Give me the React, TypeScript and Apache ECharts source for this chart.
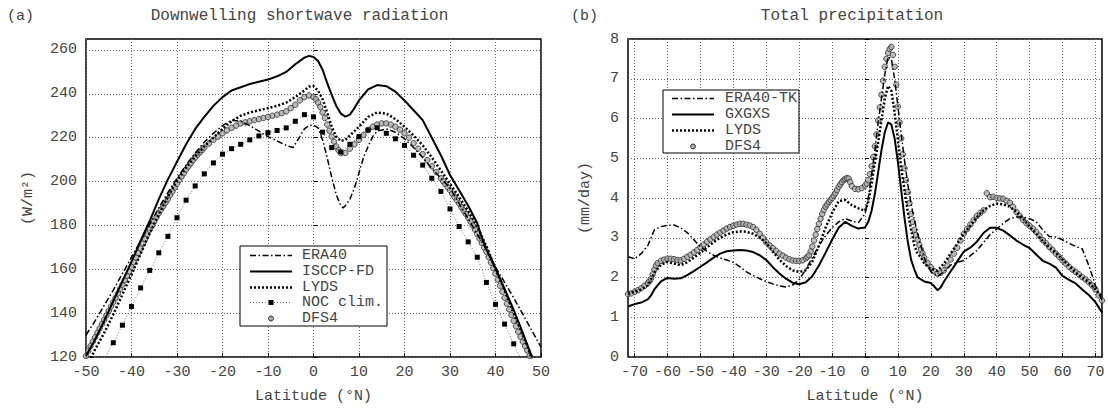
import React, { useEffect, useRef } from 'react';
import * as echarts from 'echarts';

const FONT = "'Liberation Mono', 'Courier New', monospace";
const TXT = '#444';

// ---------- Panel (a): Downwelling shortwave radiation ----------
const A_X_TICKS = [-50, -40, -30, -20, -10, 0, 10, 20, 30, 40, 50];
const A_Y_TICKS = [120, 140, 160, 180, 200, 220, 240, 260];

const A_ERA40: [number, number][] = [
  [-50, 130], [-48, 136.5], [-46, 143.5], [-44, 150.5], [-42, 158], [-40, 165.5], [-38, 173], [-36, 180.5],
  [-34, 188], [-32, 195], [-30, 201.5], [-28, 207.5], [-26, 213], [-24, 218], [-22, 222], [-20, 225.5],
  [-18, 228], [-16, 227.5], [-14, 225.5], [-12, 223], [-10, 220.5], [-8, 218.5], [-6, 216.5], [-4.5, 215.5],
  [-3, 220.5], [-2, 224], [-1, 225.5], [0, 225.8], [1, 224.5], [2, 219], [3, 211], [4, 202], [5, 194],
  [6, 189], [6.5, 188], [7, 189], [8, 192], [9, 197], [10, 204], [11, 211], [12, 216], [13, 220.5],
  [14, 223], [16, 224], [18, 222.5], [20, 219.5], [22, 215.5], [24, 211], [26, 206], [28, 201.5],
  [30, 197], [32, 190], [34, 183], [36, 176], [38, 169], [40, 161], [42, 154], [44, 147], [46, 139.5],
  [48, 132], [50, 124.5],
];

const A_ISCCP: [number, number][] = [
  [-50, 120.5], [-48, 128], [-46, 136.5], [-44, 145.5], [-42, 154.5], [-40, 163.5], [-38, 173], [-36, 182],
  [-34, 192], [-32, 201], [-30, 209], [-28, 217], [-26, 224], [-24, 229.5], [-22, 234.5], [-20, 238.5],
  [-18, 241.5], [-16, 243], [-14, 244.5], [-12, 245.5], [-10, 246.5], [-8, 248], [-6, 250], [-4, 253.5],
  [-2, 256.5], [-1, 257.3], [0, 256.8], [1, 255], [2, 251], [3, 245], [4, 239.5], [5, 234.5], [6, 231],
  [7, 229.6], [8, 230.5], [9, 233.5], [10, 237], [12, 242], [14, 244], [16, 243.5], [18, 241], [20, 237],
  [22, 232.5], [24, 228], [26, 220], [28, 212], [30, 203], [32, 196], [34, 189], [36, 181], [37, 174.5],
  [38, 169], [40, 160.5], [42, 151], [44, 141.5], [46, 131], [47, 125.5], [48, 120],
];

const A_LYDS: [number, number][] = [
  [-50, 114.5], [-48, 123.5], [-46, 131], [-44, 139.5], [-42, 148.5], [-40, 157.5], [-38, 167], [-36, 176.5],
  [-34, 185], [-32, 193], [-30, 200.5], [-28, 206.5], [-26, 211.5], [-24, 216], [-22, 220], [-20, 224],
  [-18, 227.5], [-16, 230], [-14, 231.5], [-12, 232.5], [-10, 233.5], [-8, 234.5], [-6, 236], [-4, 238.5],
  [-2, 241.5], [-1, 243.3], [0, 243.5], [1, 241.5], [2, 237.5], [3, 231.5], [4, 225], [5, 220.5], [6, 218.5],
  [7, 219], [8, 221], [10, 225], [12, 229.5], [14, 231.5], [16, 231], [18, 228.5], [20, 225], [22, 221],
  [24, 216.5], [26, 211], [28, 205], [30, 199], [32, 193], [34, 186.5], [36, 179.5], [38, 170.5], [40, 160],
  [42, 150.5], [44, 140], [46, 130], [47, 125], [48, 119],
];

const A_NOC: [number, number][] = [
  [-46, 119], [-44, 126.5], [-42, 134.5], [-40, 143], [-38, 151.5], [-36, 159.5], [-34, 167.5], [-32, 175],
  [-30, 183.5], [-28, 191.5], [-26, 198], [-24, 203.5], [-22, 208.5], [-20, 212.5], [-18, 215], [-16, 217],
  [-14, 219], [-12, 220.8], [-10, 222.3], [-8, 223.3], [-6, 224.5], [-4, 227.5], [-2, 230.5], [0, 229.5],
  [2, 222.5], [4, 215.5], [6, 213.5], [8, 217], [10, 220.5], [12, 223.5], [14, 224.5], [16, 222], [18, 219.5],
  [20, 216.5], [22, 212], [24, 207.5], [26, 201.5], [28, 195.5], [30, 187.5], [32, 179.5], [34, 172.5],
  [36, 165.5], [38, 154], [40, 144], [42, 135], [44, 126], [46, 117],
];

const A_DFS4: [number, number][] = [
  [-50, 120.5], [-49.5, 122.8], [-49, 125], [-48.5, 127], [-48, 129], [-47.5, 131], [-47, 133], [-46.5, 135],
  [-46, 137], [-45.5, 139], [-45, 141], [-44.5, 143], [-44, 145], [-43.5, 147], [-43, 149], [-42.5, 151],
  [-42, 153], [-41.5, 155], [-41, 157], [-40.5, 159], [-40, 161], [-39.5, 163.2], [-39, 165.3], [-38.5, 167.4],
  [-38, 169.5], [-37.5, 171.7], [-37, 173.8], [-36.5, 175.9], [-36, 178], [-35.5, 179.9], [-35, 181.8],
  [-34.5, 183.7], [-34, 185.5], [-33.5, 187.2], [-33, 188.8], [-32.5, 190.4], [-32, 192], [-31.5, 193.8],
  [-31, 195.5], [-30.5, 197.3], [-30, 199], [-29.5, 200.7], [-29, 202.3], [-28.5, 203.9], [-28, 205.5],
  [-27.5, 206.9], [-27, 208.3], [-26.5, 209.7], [-26, 211], [-25.5, 212.2], [-25, 213.3], [-24.5, 214.4],
  [-24, 215.5], [-23, 217.3], [-22, 219], [-21, 220.5], [-20, 222], [-19, 223.3], [-18, 224.5],
  [-17, 225.5], [-16, 226.5], [-15, 227], [-14, 227.5], [-13, 228], [-12, 228.5], [-11, 229], [-10, 229.5],
  [-9, 230], [-8, 230.5], [-7, 231.2], [-6, 232], [-5, 233.5], [-4, 235], [-3, 237], [-2, 238.5], [-1, 239.3],
  [0, 238.5], [0.5, 237.5], [1, 236], [1.5, 234], [2, 231.5], [2.5, 229], [3, 226], [3.5, 223.2], [4, 220.5],
  [4.5, 218.2], [5, 216], [5.5, 214.3], [6, 213], [7, 213], [8, 215], [9, 217],
  [10, 219], [11, 221.3], [12, 223.5], [13, 225], [14, 226], [15, 226.5], [16, 226.5], [17, 226], [18, 225],
  [19, 223.7], [20, 222], [21, 220], [22, 217.5], [23, 215], [24, 212.5], [25, 209.8], [26, 207], [27, 204.3],
  [28, 201.5], [28.5, 200.1], [29, 198.8], [29.5, 197.4], [30, 196], [30.5, 194.5], [31, 193], [31.5, 191.5],
  [32, 190], [32.5, 188.4], [33, 186.8], [33.5, 185.2], [34, 183.5], [34.5, 181.8], [35, 180], [35.5, 178],
  [36, 176], [36.5, 174], [37, 172], [37.5, 170], [38, 168], [38.5, 165.5], [39, 163], [39.5, 160.5],
  [40, 158], [40.5, 155.3], [41, 152.5], [41.5, 149.8], [42, 147], [42.5, 144.3], [43, 141.7], [43.5, 139.1],
  [44, 136.5], [44.5, 134], [45, 131.5], [45.5, 129.2], [46, 127], [46.5, 125], [47, 123], [47.5, 120.5],
];

// ---------- Panel (b): Total precipitation ----------
const B_X_TICKS = [-70, -60, -50, -40, -30, -20, -10, 0, 10, 20, 30, 40, 50, 60, 70];
const B_Y_TICKS = [0, 1, 2, 3, 4, 5, 6, 7, 8];

const B_ERA40TK: [number, number][] = [
  [-72, 2.52], [-70, 2.47], [-68, 2.6], [-66, 2.8], [-65, 3.0], [-64, 3.2], [-62, 3.28], [-60, 3.31], [-58, 3.32],
  [-56, 3.25], [-54, 3.13], [-52, 2.95], [-50, 2.77], [-48, 2.66], [-46, 2.56], [-44, 2.49], [-42, 2.44],
  [-40, 2.38], [-38, 2.27], [-36, 2.14], [-34, 2.05], [-32, 1.97], [-30, 1.9], [-28, 1.84], [-26, 1.79],
  [-24, 1.76], [-22, 1.81], [-20, 1.95], [-18, 2.2], [-16, 2.5], [-14, 2.8], [-12, 3.05], [-10, 3.25], [-8, 3.4],
  [-6, 3.48], [-4, 3.42], [-2, 3.38], [0, 3.6], [1, 4.0], [2, 4.6], [3, 5.2], [4, 5.9], [5, 6.5], [6, 7.1],
  [7, 7.55], [8, 7.5], [9, 7.0], [10, 6.3], [11, 5.6], [12, 4.95], [13, 4.35], [14, 3.85], [15, 3.45], [16, 3.1],
  [17, 2.8], [18, 2.5], [19, 2.3], [20, 2.15], [22, 2.02], [24, 2.15], [26, 2.31], [28, 2.38], [30, 2.43],
  [32, 2.55], [34, 2.68], [36, 2.88], [38, 3.08], [40, 3.22], [42, 3.36], [44, 3.48], [46, 3.52], [48, 3.52],
  [50, 3.48], [52, 3.4], [54, 3.2], [56, 3.03], [58, 3.02], [60, 2.95], [62, 2.86], [64, 2.78], [66, 2.72],
  [68, 2.3], [70, 1.8], [72, 1.43],
];

const B_GXGXS: [number, number][] = [
  [-72, 1.27], [-70, 1.33], [-68, 1.37], [-66, 1.45], [-65, 1.55], [-64, 1.7], [-62, 1.9], [-60, 1.99], [-58, 1.97],
  [-56, 1.98], [-54, 2.06], [-52, 2.16], [-50, 2.27], [-48, 2.38], [-46, 2.5], [-44, 2.6], [-42, 2.66], [-40, 2.68],
  [-38, 2.69], [-36, 2.68], [-34, 2.64], [-32, 2.56], [-30, 2.44], [-28, 2.26], [-26, 2.1], [-24, 1.97],
  [-22, 1.87], [-20, 1.83], [-18, 1.88], [-16, 2.03], [-14, 2.3], [-12, 2.62], [-10, 2.95], [-8, 3.25], [-6, 3.4],
  [-4, 3.3], [-2, 3.23], [0, 3.26], [1, 3.4], [2, 3.68], [3, 4.1], [4, 4.65], [5, 5.2], [6, 5.65], [7, 5.9],
  [8, 5.85], [9, 5.5], [10, 4.9], [11, 4.2], [12, 3.5], [13, 2.9], [14, 2.45], [15, 2.2], [16, 2.0], [18, 1.9],
  [20, 1.86], [21, 1.78], [22, 1.68], [23, 1.75], [24, 1.9], [26, 2.15], [28, 2.4], [30, 2.65], [32, 2.75],
  [34, 2.9], [36, 3.12], [38, 3.25], [40, 3.25], [42, 3.18], [44, 3.06], [46, 2.93], [48, 2.83], [50, 2.74],
  [52, 2.58], [54, 2.42], [56, 2.35], [58, 2.25], [60, 2.04], [62, 1.94], [64, 1.85], [66, 1.7], [68, 1.56],
  [70, 1.38], [72, 1.12],
];

const B_LYDS: [number, number][] = [
  [-72, 1.59], [-70, 1.64], [-68, 1.7], [-66, 1.8], [-65, 1.95], [-64, 2.12], [-62, 2.32], [-60, 2.39], [-58, 2.35],
  [-56, 2.31], [-54, 2.38], [-52, 2.5], [-50, 2.62], [-48, 2.76], [-46, 2.89], [-44, 3.0], [-42, 3.08], [-40, 3.14],
  [-38, 3.16], [-36, 3.15], [-34, 3.1], [-32, 3.0], [-30, 2.87], [-28, 2.65], [-26, 2.45], [-24, 2.29],
  [-22, 2.18], [-20, 2.14], [-18, 2.18], [-16, 2.4], [-14, 2.8], [-12, 3.25], [-10, 3.62], [-8, 3.92], [-6, 3.95],
  [-4, 3.82], [-2, 3.74], [0, 3.68], [1, 3.9], [2, 4.35], [3, 4.9], [4, 5.4], [5, 5.95], [6, 6.5], [7, 6.82],
  [8, 6.7], [9, 6.15], [10, 5.45], [11, 4.75], [12, 4.2], [13, 3.65], [14, 3.2], [15, 2.8], [16, 2.6], [17, 2.5],
  [18, 2.35], [20, 2.22], [22, 2.17], [24, 2.35], [26, 2.6], [28, 2.85], [30, 3.1], [32, 3.3], [34, 3.52],
  [36, 3.69], [38, 3.8], [40, 3.86], [42, 3.84], [44, 3.78], [46, 3.65], [48, 3.48], [50, 3.28], [52, 3.1],
  [54, 2.92], [56, 2.75], [58, 2.62], [60, 2.45], [62, 2.3], [64, 2.12], [66, 2.0], [68, 1.88], [70, 1.7],
  [72, 1.5],
];

const B_DFS4: [number, number][] = [
  [-72, 1.58], [-71, 1.6], [-70, 1.64], [-69, 1.68], [-68, 1.73], [-67, 1.79], [-66, 1.86], [-65.5, 1.91],
  [-65, 1.97], [-64.5, 2.08], [-64, 2.2], [-63.5, 2.3], [-63, 2.36], [-62, 2.42], [-61, 2.45], [-60, 2.47],
  [-59, 2.47], [-58, 2.46], [-57, 2.44],
  [-56, 2.43], [-55, 2.47], [-54, 2.52], [-53, 2.57], [-52, 2.63], [-51, 2.69], [-50, 2.76], [-49, 2.83],
  [-48, 2.9], [-47, 2.96], [-46, 3.02], [-45, 3.08], [-44, 3.13], [-43, 3.18], [-42, 3.23], [-41, 3.27],
  [-40, 3.3], [-39, 3.33], [-38, 3.35], [-37, 3.35], [-36, 3.33], [-35, 3.31], [-34, 3.27], [-33, 3.2],
  [-32, 3.1], [-31, 3.0], [-30, 2.89], [-29, 2.81], [-28, 2.74], [-27, 2.67], [-26, 2.6], [-25, 2.55],
  [-24, 2.5], [-23, 2.46], [-22, 2.43], [-21, 2.42], [-20, 2.42], [-19, 2.43], [-18, 2.48], [-17.5, 2.52],
  [-17, 2.56], [-16.5, 2.66], [-16, 2.78], [-15.5, 2.93], [-15, 3.08], [-14.5, 3.22], [-14, 3.35], [-13.5, 3.48],
  [-13, 3.6], [-12.5, 3.7], [-12, 3.78], [-11.5, 3.84], [-11, 3.9], [-10.5, 3.95], [-10, 4.0], [-9.5, 4.06],
  [-9, 4.12], [-8.5, 4.2], [-8, 4.28], [-7.5, 4.34], [-7, 4.4], [-6.5, 4.45], [-6, 4.48], [-5.5, 4.5],
  [-5, 4.49], [-4.5, 4.4], [-4, 4.3], [-3, 4.23], [-2, 4.22], [-1, 4.25], [0, 4.31],
  [0.5, 4.36], [1, 4.45], [1.5, 4.6], [2, 4.8], [2.5, 5.03], [3, 5.3], [3.5, 5.6], [4, 5.95], [4.5, 6.28],
  [5, 6.6], [5.5, 6.95], [6, 7.3], [6.5, 7.5], [7, 7.65], [7.5, 7.75], [8, 7.8], [8.5, 7.6], [9, 7.3],
  [9.5, 6.85], [10, 6.3], [10.5, 5.9], [11, 5.5], [11.5, 5.1], [12, 4.75], [12.5, 4.45], [13, 4.15],
  [13.5, 3.87], [14, 3.6], [14.5, 3.4], [15, 3.2], [15.5, 3.07], [16, 2.95], [16.5, 2.82], [17, 2.7],
  [17.5, 2.6], [18, 2.5], [19, 2.37],
  [20, 2.26], [21, 2.16], [22, 2.1], [23, 2.12], [24, 2.18], [25, 2.3], [26, 2.45], [27, 2.6], [28, 2.75],
  [29, 2.93], [30, 3.1], [31, 3.22], [32, 3.33], [33, 3.44], [34, 3.55], [35, 3.62], [36, 3.69], [37, 4.12],
  [38, 4.02], [39, 4.03], [40, 4.0], [41, 3.99], [42, 3.98], [43, 3.93], [44, 3.88], [45, 3.78], [46, 3.65],
  [47, 3.55], [48, 3.45], [49, 3.37], [50, 3.3], [51, 3.23], [52, 3.15], [53, 3.05], [54, 2.94], [55, 2.86],
  [56, 2.77], [57, 2.69], [58, 2.6], [59, 2.52], [60, 2.43], [61, 2.35], [62, 2.27], [63, 2.2], [64, 2.14],
  [65, 2.08], [66, 2.01], [67, 1.95], [68, 1.88], [69, 1.8], [70, 1.7], [71, 1.55], [72, 1.42],
];

const A_LEGEND = ['ERA40', 'ISCCP-FD', 'LYDS', 'NOC clim.', 'DFS4'];
const B_LEGEND = ['ERA40-TK', 'GXGXS', 'LYDS', 'DFS4'];

// ---------- styles ----------
const DASHDOT = [6, 2.5, 1.5, 2.5];
const DOTTED_THICK = [2, 2];
const GRID_LINE = { show: true, lineStyle: { color: '#666', width: 1, type: [1, 2] as number[] } };
const LABEL = { fontFamily: FONT, fontSize: 15, color: TXT };
const DFS_STYLE = { color: '#ababab', borderColor: '#2a2a2a', borderWidth: 1 };

type Kind = 'dashdot' | 'solid' | 'dotted' | 'noc' | 'dfs';

function legend(x: number, y: number, w: number, h: number, row0: number, step: number,
                lx1: number, lx2: number, tx: number, labels: string[], kinds: Kind[]) {
  const els: any[] = [{
    type: 'rect', z: 100, shape: { x, y, width: w, height: h },
    style: { fill: '#fff', stroke: '#000', lineWidth: 1 },
  }];
  labels.forEach((lab, i) => {
    const cy = Math.round(row0 + i * step) + 0.5;
    const k = kinds[i];
    const mid = (lx1 + lx2) / 2;
    if (k === 'dashdot') {
      els.push({ type: 'line', z: 101, shape: { x1: lx1, y1: cy, x2: lx2, y2: cy }, style: { stroke: '#000', lineWidth: 1.6, lineDash: DASHDOT } });
    } else if (k === 'solid') {
      els.push({ type: 'line', z: 101, shape: { x1: lx1, y1: cy, x2: lx2, y2: cy }, style: { stroke: '#000', lineWidth: 2 } });
    } else if (k === 'dotted') {
      els.push({ type: 'line', z: 101, shape: { x1: lx1, y1: cy, x2: lx2, y2: cy }, style: { stroke: '#000', lineWidth: 2.5, lineDash: DOTTED_THICK } });
    } else if (k === 'noc') {
      els.push({ type: 'line', z: 101, shape: { x1: lx1, y1: cy, x2: lx2, y2: cy }, style: { stroke: '#555', lineWidth: 0.8, lineDash: [1, 2] } });
      els.push({ type: 'rect', z: 102, shape: { x: mid - 2.5, y: cy - 2.5, width: 5, height: 5 }, style: { fill: '#000' } });
    } else if (k === 'dfs') {
      els.push({ type: 'circle', z: 102, shape: { cx: mid, cy, r: 2.5 }, style: { fill: DFS_STYLE.color, stroke: DFS_STYLE.borderColor, lineWidth: 1 } });
    }
    els.push({
      type: 'text', z: 102, x: tx, y: cy,
      style: { text: lab, fontFamily: FONT, fontSize: 15, fill: TXT, align: 'left', verticalAlign: 'middle', textAlign: 'left', textVerticalAlign: 'middle' },
    });
  });
  return els;
}

function textEl(text: string, x: number, y: number, align: string, size = 15) {
  return {
    type: 'text', x, y, z: 50,
    style: { text, fontFamily: FONT, fontSize: size, fill: TXT, align, verticalAlign: 'middle', textAlign: align, textVerticalAlign: 'middle' },
  };
}

const GA = { left: 86, top: 39, width: 455, height: 318 };
const GB = { left: 628, top: 39, width: 474, height: 318 };

function buildOption(): any {
  const xAxisCommon = (ticks: number[], min: number, max: number, gridIndex: number) => ({
    type: 'value', gridIndex, min, max,
    axisLine: { show: false },
    axisTick: { show: true, inside: true, length: 4, customValues: ticks, lineStyle: { color: '#000', width: 1 } },
    axisLabel: { customValues: ticks, margin: 8, ...LABEL },
    splitLine: GRID_LINE,
    name: 'Latitude (°N)', nameLocation: 'middle', nameGap: 32,
    nameTextStyle: { ...LABEL },
  });
  const yAxisCommon = (ticks: number[], min: number, max: number, gridIndex: number, name: string, gap: number) => ({
    type: 'value', gridIndex, min, max,
    axisLine: { show: false },
    axisTick: { show: true, inside: true, length: 4, customValues: ticks, lineStyle: { color: '#000', width: 1 } },
    axisLabel: { customValues: ticks, margin: 9, ...LABEL },
    splitLine: GRID_LINE,
    name, nameLocation: 'middle', nameGap: gap, nameRotate: 90,
    nameTextStyle: { ...LABEL },
  });

  const lineSeries = (data: [number, number][], idx: number, lineStyle: any, extra: any = {}) => ({
    type: 'line', xAxisIndex: idx, yAxisIndex: idx, data, symbol: 'none', showSymbol: false,
    lineStyle: { color: '#000', ...lineStyle }, silent: true, clip: true, z: 3, ...extra,
  });
  const dfsSeries = (data: [number, number][], idx: number) => ({
    type: 'scatter', xAxisIndex: idx, yAxisIndex: idx, data, symbol: 'circle', symbolSize: 5.5,
    itemStyle: DFS_STYLE, silent: true, clip: true, z: 2,
  });

  return {
    animation: false,
    backgroundColor: '#fff',
    grid: [
      { ...GA, show: true, borderColor: '#000', borderWidth: 1.5, backgroundColor: 'transparent', containLabel: false },
      { ...GB, show: true, borderColor: '#000', borderWidth: 1.5, backgroundColor: 'transparent', containLabel: false },
    ],
    xAxis: [
      xAxisCommon(A_X_TICKS, -50, 50, 0),
      xAxisCommon(B_X_TICKS, -72, 72, 1),
    ],
    yAxis: [
      yAxisCommon(A_Y_TICKS, 120, 265, 0, '(W/m²)', 50),
      yAxisCommon(B_Y_TICKS, 0, 8, 1, '(mm/day)', 35),
    ],
    series: [
      dfsSeries(A_DFS4, 0),
      lineSeries(A_NOC, 0, { color: '#555', width: 0.8, type: [1, 2] }, { symbol: 'rect', symbolSize: 5, showSymbol: true, itemStyle: { color: '#000' } }),
      lineSeries(A_ERA40, 0, { width: 1.5, type: DASHDOT }),
      lineSeries(A_ISCCP, 0, { width: 2 }),
      lineSeries(A_LYDS, 0, { width: 2.5, type: DOTTED_THICK }),
      dfsSeries(B_DFS4, 1),
      lineSeries(B_ERA40TK, 1, { width: 1.5, type: DASHDOT }),
      lineSeries(B_GXGXS, 1, { width: 2 }),
      lineSeries(B_LYDS, 1, { width: 2.5, type: DOTTED_THICK }),
    ],
    graphic: [
      textEl('(a)', 7, 16, 'left'),
      textEl('Downwelling shortwave radiation', GA.left + GA.width / 2 - 14, 16, 'center', 16),
      textEl('(b)', 571, 16, 'left'),
      textEl('Total precipitation', GB.left + GB.width / 2 - 13, 16, 'center', 16),
      ...legend(240, 246, 147, 80, 255, 15.8, 250, 292, 302, A_LEGEND, ['dashdot', 'solid', 'dotted', 'noc', 'dfs']),
      ...legend(663, 90, 136, 63, 98, 16, 672, 714, 725, B_LEGEND, ['dashdot', 'solid', 'dotted', 'dfs']),
    ],
  };
}

export default function App() {
  const ref = useRef<HTMLDivElement>(null);
  useEffect(() => {
    if (!ref.current) return;
    const chart = echarts.init(ref.current, undefined, { renderer: 'svg' });
    chart.setOption(buildOption());
    return () => chart.dispose();
  }, []);
  return (
    <div
      ref={ref}
      style={{ position: 'absolute', left: 0, top: 0, width: 1108, height: 409, background: '#fff' }}
    />
  );
}
